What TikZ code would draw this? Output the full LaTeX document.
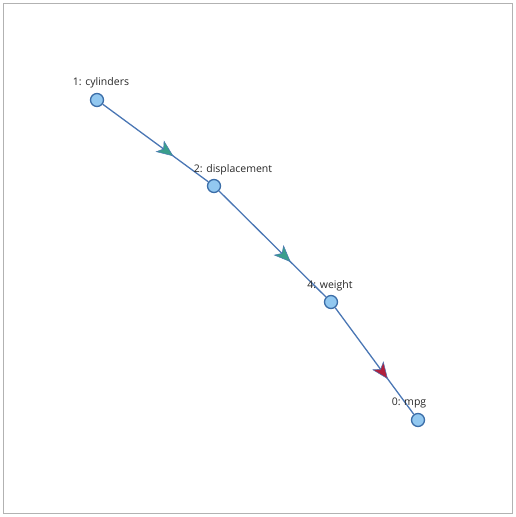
\documentclass[tikz,border=0pt]{standalone}
\usepackage{fontspec}
\setmainfont{Open Sans}
\usetikzlibrary{arrows.meta,decorations.markings}
\definecolor{edgeblue}{HTML}{4A76B4}
\definecolor{nodeblue}{HTML}{92C8F0}
\definecolor{ringblue}{HTML}{3C6EA8}
\definecolor{tipgreen}{HTML}{3A9E8C}
\definecolor{tipred}{HTML}{B0203C}

\begin{document}
\begin{tikzpicture}[x=1pt,y=-1pt,
    var/.style={circle,draw=ringblue,fill=nodeblue,line width=1.3pt,inner sep=0pt,minimum size=13pt},
    varlabel/.style={font=\fontsize{10.5}{12}\selectfont,text=black!85,inner sep=0pt},
    link/.style={edgeblue,line width=1.3pt,postaction={decorate},
        decoration={markings,mark=at position .67 with
            {\arrow{Stealth[length=17pt,width=14pt,inset=4.5pt,line width=.5pt,fill=#1]}}}}]

    \useasboundingbox (0,0) rectangle (515,517);
    \draw[black!30,line width=.8pt] (3,3) rectangle (512,513);

    % variables
    \node[var] (cyl) at (97,100) {};
    \node[var] (disp) at (214,186) {};
    \node[var] (wt) at (331,302) {};
    \node[var] (mpg) at (418,420) {};

    % liens
    \draw[link=tipgreen] (cyl) -- (disp);
    \draw[link=tipgreen] (disp) -- (wt);
    \draw[link=tipred] (wt) -- (mpg);

    % noms
    \node[varlabel] (cyl lab) at (101,83) {1: cylinders};
    \node[varlabel] (disp lab) at (233,170) {2: displacement};
    \node[varlabel] (wt lab) at (330,286) {4: weight};
    \node[varlabel] (mpg lab) at (409,403) {0: mpg};

\end{tikzpicture}
\end{document}
